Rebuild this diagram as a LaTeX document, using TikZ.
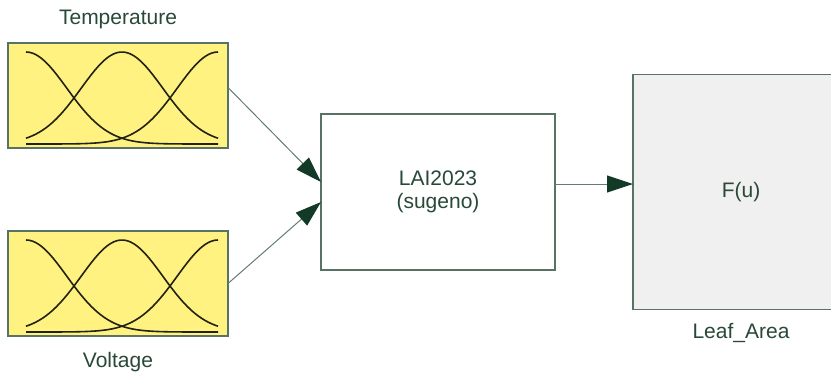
\documentclass[tikz,border=0pt]{standalone}
\usepackage{fontspec}
\setmainfont{Liberation Sans}
\usepackage{tikz}
\usetikzlibrary{arrows.meta,positioning}

\definecolor{edgegreen}{RGB}{88,115,100}
\definecolor{txtgreen}{RGB}{40,72,56}
\definecolor{linegreen}{RGB}{100,125,112}
\definecolor{headgreen}{RGB}{18,58,38}
\definecolor{mfyellow}{RGB}{255,242,128}
\definecolor{outgray}{RGB}{240,240,240}
\definecolor{mfline}{RGB}{34,34,18}

\begin{document}
\begin{tikzpicture}[
  x=0.5pt, y=-0.5pt,
  font=\fontsize{10.5}{11.5}\selectfont, text=txtgreen,
  blk/.style={draw=edgegreen, line width=0.75pt, outer sep=0pt, inner sep=0pt},
  mfbox/.style={blk, fill=mfyellow, minimum width=110pt, minimum height=52.5pt},
  lbl/.style={inner sep=0pt, outer sep=0pt},
  arr/.style={-{Triangle[length=13pt,width=8.5pt,color=headgreen]}, draw=linegreen, line width=0.5pt}
]
\useasboundingbox (0,0) rectangle (831,377);

% input membership functions
\node[mfbox] (temp) at (118,95.5) {};
\node[mfbox, below=41.5pt of temp] (volt) {};
\node[lbl, above=7pt of temp] (templbl) {Temperature};
\node[lbl, below=8pt of volt] (voltlbl) {Voltage};

\foreach \b in {temp,volt} {
  \begin{scope}[shift={(\b.south west)}]
    \foreach \c in {18,114,210}
      \draw[mfline, line width=0.8pt, smooth, samples=60]
        plot[domain=18:210] (\x, {-4-92*exp(-((\x-\c)/40.8)^2/2)});
  \end{scope}
}

% fis and output
\node[blk, fill=white, minimum width=117pt, minimum height=78pt, align=center]
  (fis) at (438,192) {LAI2023\\(sugeno)};
\node[blk, fill=outgray, minimum width=108pt, minimum height=117.5pt,
  right=39pt of fis] (out) {F(u)};
\node[lbl, below=7pt of out] (outlbl) {Leaf\_Area};

\draw[arr] ([yshift=4pt]temp.east) -- ([yshift=5pt]fis.west);
\draw[arr] (volt.east) -- ([yshift=-5pt]fis.west);
\draw[arr] ([yshift=4pt]fis.east) -- ([yshift=4pt]fis.east -| out.west);
\end{tikzpicture}
\end{document}
